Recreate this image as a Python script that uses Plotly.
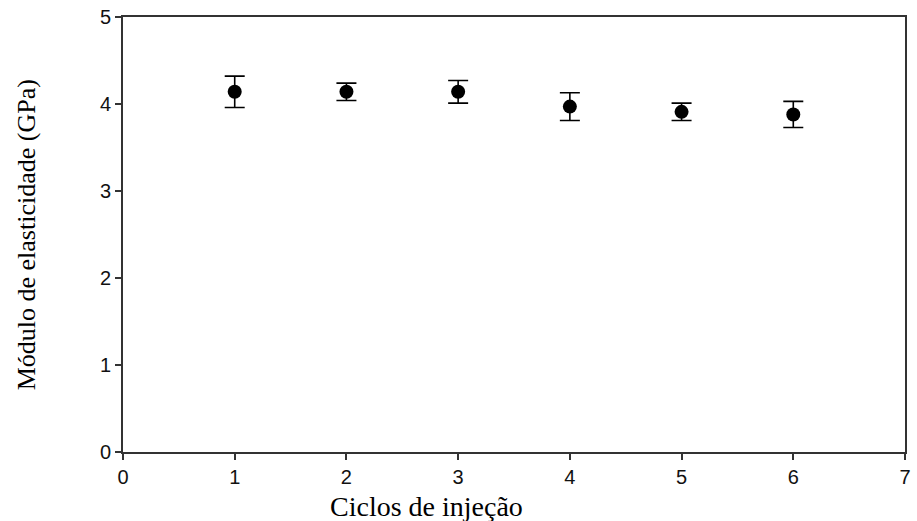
import plotly.graph_objects as go

# Injection cycles and measured elastic modulus (GPa) with standard deviation
ciclos = [1, 2, 3, 4, 5, 6]
modulo = [4.14, 4.14, 4.14, 3.97, 3.91, 3.88]
desvio = [0.18, 0.10, 0.13, 0.16, 0.10, 0.15]

x_ticks = [0, 1, 2, 3, 4, 5, 6, 7]
y_ticks = [0, 1, 2, 3, 4, 5]

fig = go.Figure()
fig.add_trace(go.Scatter(
    x=ciclos, y=modulo,
    mode="markers",
    marker=dict(color="black", size=14),
    error_y=dict(type="data", array=desvio, visible=True,
                 color="black", thickness=1.6, width=10),
    showlegend=False,
))

axis_common = dict(
    showgrid=False, zeroline=False,
    showline=True, linecolor="#333", linewidth=1.6, mirror=True,
    ticks="outside", ticklen=6, tickwidth=1.5, tickcolor="#333",
    tickfont=dict(family="Liberation Sans, Arial", size=20, color="#111"),
)

fig.update_layout(
    width=917, height=521,
    margin=dict(l=123, r=6, t=14, b=69),
    paper_bgcolor="white", plot_bgcolor="white",
    xaxis=dict(range=[0, 7], tickvals=x_ticks, **axis_common),
    yaxis=dict(range=[0, 5], tickvals=y_ticks, **axis_common),
    annotations=[
        dict(text="Ciclos de injeção", xref="paper", yref="paper",
             x=0.388, y=-0.125, xanchor="center", yanchor="middle",
             showarrow=False,
             font=dict(family="Liberation Serif, Times New Roman", size=28, color="black")),
        dict(text="Módulo de elasticidade (GPa)", xref="paper", yref="paper",
             x=-0.123, y=0.50, xanchor="center", yanchor="middle",
             textangle=-90, showarrow=False,
             font=dict(family="Liberation Serif, Times New Roman", size=26, color="black")),
    ],
)

fig.write_html("out.html")
